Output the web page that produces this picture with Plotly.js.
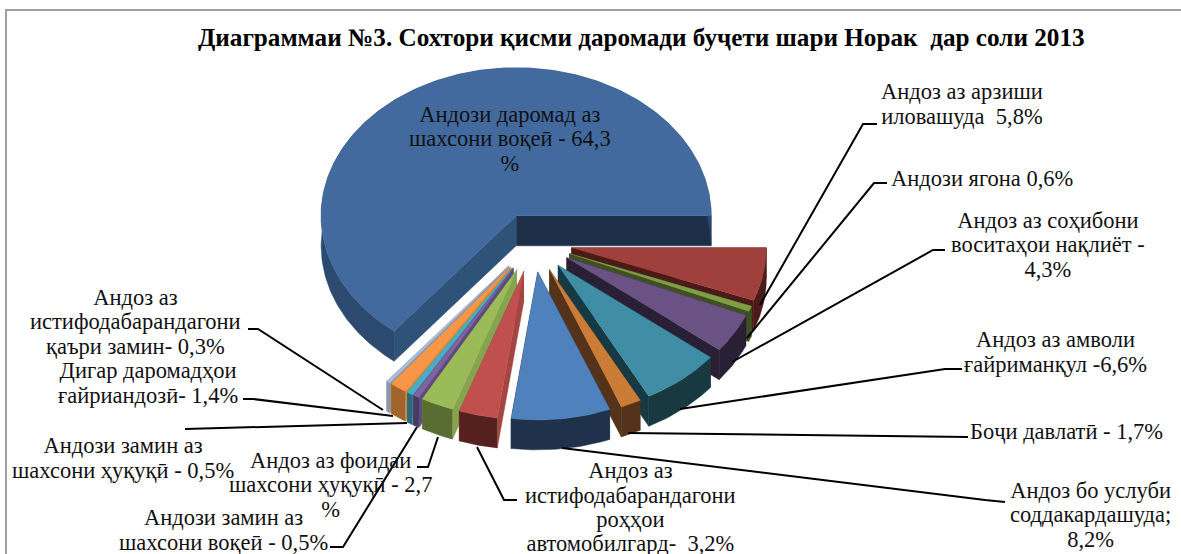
<!DOCTYPE html>
<html>
<head>
<meta charset="utf-8">
<script src="https://cdn.plot.ly/plotly-3.0.1.min.js"></script>
<style>html,body{margin:0;padding:0;background:#fff;overflow:hidden}#chart{width:1181px;height:554px}</style>
</head>
<body>
<div id="chart"></div>
<script>
// Data: order is clockwise, starting at the main slice
const categories = [
  "Андози даромад аз шахсони воқеӣ", "Андоз аз арзиши иловашуда", "Андози ягона",
  "Андоз аз соҳибони воситаҳои нақлиёт", "Андоз аз амволи ғайриманқул", "Боҷи давлатӣ",
  "Андоз бо услуби соддакардашуда", "Андоз аз истифодабарандагони роҳҳои автомобилгард",
  "Андоз аз фоидаи шахсони ҳуқуқӣ", "Андози замин аз шахсони воқеӣ",
  "Андози замин аз шахсони ҳуқуқӣ", "Дигар даромадҳои ғайриандозӣ",
  "Андоз аз истифодабарандагони қаъри замин"
];
const values = [64.3, 5.8, 0.6, 4.3, 6.6, 1.7, 8.2, 3.2, 2.7, 0.5, 0.5, 1.4, 0.3];
const topColors   = ["#426a9e","#9f403c","#7f9e45","#6b5285","#3f8ea6","#cb7c37","#4f81bd","#c0504d","#9bbb59","#8064a2","#4bacc6","#f79646","#a9bcd9"];
const startWalls  = ["#2f5278","#4a1b19","#3f5122","#2a2036","#163a43","#54331a","#1f314b","#a34540","#86a34f","#5f4a80","#3a90a8","#d88a3f","#8a97ab"];
const endWalls    = ["#1d2f49","#4a1b19","#3f5122","#2a2036","#163a43","#54331a","#1f314b","#a34540","#86a34f","#5f4a80","#3a90a8","#d88a3f","#8a97ab"];
const arcWalls    = ["#2c4a70","#4a1b19","#3f5122","#2a2036","#17393f","#54331a","#1f314b","#56201e","#596d32","#4a3a62","#2a6a7a","#a0652b","#8a97ab"];
const paintOrder  = [0,1,2,3,4,5,12,11,10,9,8,7,6];

const titleText = "Диаграммаи №3. Сохтори қисми даромади буҷети шари Норак  дар соли 2013";
const labelTexts = [
  "Андози даромад аз<br>шахсони воқеӣ - 64,3<br>%",
  "Андоз аз арзиши<br>иловашуда  5,8%",
  "Андози ягона 0,6%",
  "Андоз аз соҳибони<br>воситаҳои нақлиёт -<br>4,3%",
  "Андоз аз амволи<br>ғайриманқул -6,6%",
  "Боҷи давлатӣ - 1,7%",
  "Андоз бо услуби<br>соддакардашуда;<br>8,2%",
  "Андоз аз<br>истифодабарандагони<br>роҳҳои<br>автомобилгард-  3,2%",
  "Андоз аз фоидаи<br>шахсони ҳуқуқӣ - 2,7<br>%",
  "Андози замин аз<br>шахсони воқеӣ - 0,5%",
  "Андози замин аз<br>шахсони ҳуқуқӣ - 0,5%",
  "Дигар даромадҳои<br>ғайриандозӣ- 1,4%",
  "Андоз аз<br>истифодабарандагони<br>қаъри замин- 0,3%"
];
const labelX = [510,962,982,1048,1055,1066,1090,630,330,223,123,148,135];
const labelY = [139,104,178,245,352,431,515,507,485,530,458,383,322];
const leaders = [
  null,
  [[877,124],[863,124],[760,305]],
  [[887,183],[874,183],[747,338]],
  [[945,250],[933,250],[732,362]],
  [[962,369],[945,369],[680,409]],
  [[968,437],[628,433]],
  [[1005,502],[985,500],[562,448]],
  [[517,500],[504,500],[477,447]],
  [[417,467],[428,467],[438,437]],
  [[330,547],[343,547],[417,427]],
  [[185,429],[407,423]],
  [[243,399],[253,399],[393,416]],
  [[248,329],[258,329],[383,410]]
];

// Tilted pie geometry, in the pixel units of the axes
const cx = 533, cy = 242.5, rx = 195, ry = 148, depth = 30, pull = 0.2;

const total = values.reduce((a, b) => a + b, 0);
const starts = [];
let acc = -values[0];
values.forEach(v => { starts.push(acc); acc += v; });

function ptAt(frac, ox, oy, r) {
  const a = frac / total * 2 * Math.PI;
  return [ox + r * rx * Math.cos(a), oy + r * ry * Math.sin(a)];
}
function poly(points, color) {
  return {
    type: "scatter", mode: "lines", fill: "toself", fillcolor: color,
    x: points.map(p => p[0]), y: points.map(p => p[1]),
    line: {color: color, width: 0.5}, hoverinfo: "skip", showlegend: false
  };
}
function shift(points) { return points.map(p => [p[0], p[1] + depth]); }

const traces = [];
paintOrder.forEach(i => {
  const s = starts[i], e = s + values[i], mid = (s + e) / 2;
  const [ox, oy] = ptAt(mid, cx, cy, pull);
  const n = Math.max(2, Math.ceil(values[i] * 3.6));
  const arc = [];
  for (let k = 0; k <= n; k++) arc.push(ptAt(s + (e - s) * k / n, ox, oy, 1));
  const apex = [ox, oy];
  const first = arc[0], last = arc[arc.length - 1];
  traces.push(poly([apex, first].concat(shift([first, apex])), startWalls[i]));
  traces.push(poly([apex, last].concat(shift([last, apex])), endWalls[i]));
  traces.push(poly(arc.concat(shift(arc).reverse()), arcWalls[i]));
  traces.push(poly([apex].concat(arc), topColors[i]));
});

const font = {family: "'Liberation Serif','Times New Roman',serif", size: 22.5, color: "#111"};
const annotations = labelTexts.map((t, i) => ({
  text: t, x: labelX[i], y: labelY[i], xref: "x", yref: "y",
  xanchor: "center", yanchor: "middle", align: "center", showarrow: false, font: font
}));
const shapes = leaders.filter(Boolean).map(pts => ({
  type: "path", xref: "x", yref: "y",
  path: "M" + pts.map(p => p.join(",")).join("L"),
  line: {color: "#000", width: 2}, layer: "above"
}));
shapes.push({type: "path", xref: "x", yref: "y", path: "M6,554L6,10L1181,10",
  line: {color: "#a0a0a0", width: 2}, layer: "below"});

Plotly.newPlot("chart", traces, {
  width: 1181, height: 554,
  margin: {l: 0, r: 0, t: 0, b: 0},
  paper_bgcolor: "#fff", plot_bgcolor: "#fff",
  showlegend: false,
  title: {text: titleText, x: 0.543, xanchor: "center", y: 0.933, yanchor: "middle",
    font: {family: "'Liberation Serif','Times New Roman',serif", size: 25.2, color: "#000", weight: 700}},
  xaxis: {range: [0, 1181], visible: false, fixedrange: true},
  yaxis: {range: [554, 0], visible: false, fixedrange: true},
  annotations: annotations, shapes: shapes
}, {displayModeBar: false, responsive: false}).then(() => {
  // tighten the label line spacing, keeping each block's centre
  const lineEm = 1.08;
  document.querySelectorAll(".annotation-text").forEach(t => {
    const lines = t.querySelectorAll("tspan.line");
    const n = lines.length;
    lines.forEach((l, i) => {
      const em = (i - (n - 1) / 2) * lineEm + (n - 1) / 2 * 1.3;
      l.setAttribute("dy", em + "em");
    });
  });
});
</script>
</body>
</html>
